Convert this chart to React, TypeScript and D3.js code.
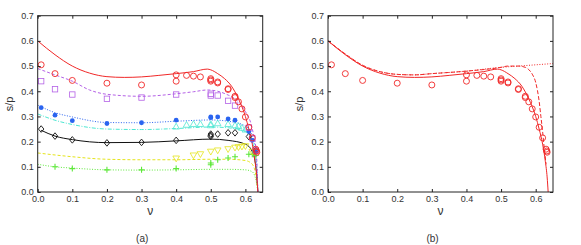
import React, { useRef, useEffect } from 'react';
import * as d3 from 'd3';

type P = [number, number];

// ---- panel (a) data ----
const redPts: P[] = [[0.01,0.505],[0.05,0.47],[0.1,0.443],[0.2,0.432],[0.3,0.425],[0.4,0.465],[0.4,0.44],[0.43,0.463],[0.45,0.46],[0.47,0.457],[0.5,0.45],[0.5,0.445],[0.5,0.44],[0.52,0.437],[0.52,0.433],[0.55,0.41],[0.55,0.407],[0.57,0.38],[0.57,0.375],[0.58,0.358],[0.59,0.33],[0.6,0.298],[0.61,0.257],[0.62,0.215],[0.63,0.17],[0.632,0.163],[0.633,0.158]];
const redLine: P[] = [[0,0.6],[0.05,0.545],[0.1,0.5],[0.15,0.472],[0.2,0.458],[0.25,0.455],[0.3,0.457],[0.35,0.463],[0.4,0.47],[0.45,0.478],[0.49,0.488],[0.5,0.485],[0.52,0.47],[0.54,0.45],[0.56,0.42],[0.58,0.37],[0.6,0.3],[0.61,0.25],[0.62,0.19],[0.628,0.12],[0.633,0.06],[0.636,0]];

const purplePts: P[] = [[0.01,0.44],[0.05,0.408],[0.1,0.387],[0.2,0.37],[0.3,0.375],[0.4,0.387],[0.5,0.39],[0.5,0.383],[0.52,0.383],[0.55,0.362],[0.57,0.343],[0.61,0.255],[0.62,0.213],[0.63,0.165]];
const purpleLine: P[] = [[0,0.49],[0.05,0.465],[0.1,0.44],[0.15,0.405],[0.2,0.388],[0.3,0.38],[0.4,0.39],[0.45,0.398],[0.49,0.405],[0.52,0.4],[0.55,0.385],[0.57,0.37],[0.6,0.32],[0.62,0.25],[0.632,0.15],[0.636,0]];

const bluePts: P[] = [[0.01,0.335],[0.05,0.305],[0.1,0.283],[0.2,0.272],[0.3,0.275],[0.4,0.285],[0.5,0.298],[0.5,0.295],[0.52,0.298],[0.55,0.29],[0.57,0.285],[0.61,0.24],[0.62,0.205],[0.63,0.16]];
const blueLine: P[] = [[0,0.345],[0.05,0.315],[0.1,0.298],[0.2,0.276],[0.3,0.275],[0.4,0.281],[0.5,0.286],[0.55,0.281],[0.6,0.262],[0.62,0.225],[0.632,0.12],[0.636,0]];

const cyanPts: P[] = [[0.4,0.26],[0.43,0.267],[0.45,0.27],[0.47,0.27],[0.5,0.27],[0.5,0.265],[0.52,0.273],[0.55,0.27],[0.57,0.265],[0.58,0.262],[0.59,0.255],[0.6,0.248]];
const cyanLine: P[] = [[0,0.31],[0.05,0.285],[0.1,0.268],[0.2,0.25],[0.3,0.248],[0.4,0.252],[0.5,0.258],[0.55,0.255],[0.6,0.24],[0.62,0.2],[0.632,0.1],[0.636,0]];

const blackPts: P[] = [[0.01,0.25],[0.05,0.222],[0.1,0.207],[0.2,0.195],[0.3,0.197],[0.4,0.205],[0.5,0.23],[0.5,0.225],[0.5,0.22],[0.52,0.23],[0.55,0.235],[0.57,0.235],[0.61,0.22],[0.63,0.165]];
const blackLine: P[] = [[0.01,0.245],[0.05,0.222],[0.1,0.208],[0.2,0.196],[0.3,0.197],[0.4,0.203],[0.5,0.21],[0.55,0.205],[0.6,0.19],[0.62,0.16],[0.632,0.08],[0.636,0]];

const yellowPts: P[] = [[0.4,0.133],[0.45,0.145],[0.47,0.15],[0.5,0.16],[0.52,0.165],[0.55,0.17],[0.57,0.176],[0.58,0.178],[0.59,0.18],[0.6,0.182],[0.62,0.16]];
const yellowLine: P[] = [[0,0.155],[0.05,0.147],[0.1,0.14],[0.2,0.13],[0.3,0.128],[0.4,0.128],[0.5,0.13],[0.55,0.13],[0.6,0.125],[0.62,0.11],[0.632,0.05],[0.636,0]];

const greenPts: P[] = [[0.05,0.1],[0.1,0.093],[0.2,0.088],[0.3,0.088],[0.4,0.093],[0.5,0.115],[0.5,0.108],[0.52,0.128],[0.55,0.135],[0.57,0.14],[0.61,0.15],[0.62,0.15],[0.63,0.145]];
const greenLine: P[] = [[0,0.11],[0.05,0.1],[0.1,0.095],[0.2,0.088],[0.3,0.087],[0.4,0.088],[0.5,0.09],[0.55,0.09],[0.6,0.088],[0.62,0.08],[0.633,0.03],[0.636,0]];

// ---- panel (b) data ----
const redDashed: P[] = [[0,0.6],[0.05,0.548],[0.1,0.503],[0.15,0.478],[0.2,0.467],[0.25,0.465],[0.3,0.47],[0.4,0.48],[0.5,0.495],[0.52,0.5],[0.55,0.5],[0.57,0.495],[0.58,0.486],[0.59,0.468],[0.6,0.435],[0.61,0.36],[0.615,0.3],[0.62,0.24],[0.625,0.17],[0.63,0.11]];
const redDotted: P[] = [[0,0.6],[0.05,0.548],[0.1,0.503],[0.15,0.478],[0.2,0.467],[0.25,0.465],[0.3,0.47],[0.4,0.48],[0.5,0.495],[0.55,0.5],[0.6,0.505],[0.65,0.51]];

const xTicks = [0, 0.1, 0.2, 0.3, 0.4, 0.5, 0.6];
const yTicks = [0, 0.1, 0.2, 0.3, 0.4, 0.5, 0.6, 0.7];

const FONT = '"Liberation Sans", Arial, sans-serif';

export default function App() {
    const svgRef = useRef<SVGSVGElement>(null);

    useEffect(() => {
        const svg = d3.select(svgRef.current);
        svg.selectAll('*').remove();

        const top = 15.7, bottom = 192, w = 225;

        const drawPanel = (left: number, label: string,
            series: { line: P[]; pts?: P[]; color: string; dash: string; marker?: string; width?: number }[]) => {
            const x = d3.scaleLinear().domain([0, 0.65]).range([left, left + w]);
            const y = d3.scaleLinear().domain([0, 0.7]).range([bottom, top]);
            const g = svg.append('g');

            const clipId = 'clip' + label.replace(/\W/g, '');
            g.append('clipPath').attr('id', clipId).append('rect')
                .attr('x', left).attr('y', top).attr('width', w).attr('height', bottom - top);

            const line = d3.line<P>().x(d => x(d[0])).y(d => y(d[1])).curve(d3.curveMonotoneX);
            const plot = g.append('g').attr('clip-path', `url(#${clipId})`);

            series.forEach(s => {
                plot.append('path').attr('d', line(s.line) as string)
                    .attr('fill', 'none').attr('stroke', s.color)
                    .attr('stroke-width', s.width ?? 1)
                    .attr('stroke-dasharray', s.dash);
            });

            series.forEach(s => {
                if (!s.pts) return;
                const mg = g.append('g');
                s.pts.forEach(p => {
                    const cx = x(p[0]), cy = y(p[1]);
                    const m = s.marker;
                    if (m === 'circle') {
                        mg.append('circle').attr('cx', cx).attr('cy', cy).attr('r', 3)
                            .attr('fill', 'none').attr('stroke', s.color).attr('stroke-width', 0.9);
                    } else if (m === 'square') {
                        mg.append('rect').attr('x', cx - 2.7).attr('y', cy - 2.7).attr('width', 5.4).attr('height', 5.4)
                            .attr('fill', 'none').attr('stroke', s.color).attr('stroke-width', 0.8);
                    } else if (m === 'dot') {
                        mg.append('circle').attr('cx', cx).attr('cy', cy).attr('r', 2.4).attr('fill', s.color);
                    } else if (m === 'tri' || m === 'tridown') {
                        const d = m === 'tri' ? 1 : -1;
                        const pts = [[cx, cy - 3.3 * d], [cx - 3.3, cy + 2.5 * d], [cx + 3.3, cy + 2.5 * d]];
                        mg.append('polygon').attr('points', pts.map(q => q.join(',')).join(' '))
                            .attr('fill', 'none').attr('stroke', s.color).attr('stroke-width', 0.8);
                    } else if (m === 'diamond') {
                        const pts = [[cx, cy - 3.3], [cx + 2.7, cy], [cx, cy + 3.3], [cx - 2.7, cy]];
                        mg.append('polygon').attr('points', pts.map(q => q.join(',')).join(' '))
                            .attr('fill', 'none').attr('stroke', s.color).attr('stroke-width', 0.9);
                    } else if (m === 'plus') {
                        mg.append('path').attr('d', `M${cx - 3},${cy}H${cx + 3}M${cx},${cy - 3}V${cy + 3}`)
                            .attr('stroke', s.color).attr('stroke-width', 1.1);
                    }
                });
            });

            // frame with inward ticks
            g.append('rect').attr('x', left).attr('y', top).attr('width', w).attr('height', bottom - top)
                .attr('fill', 'none').attr('stroke', '#222').attr('stroke-width', 1);

            const fmt = d3.format('.1f');
            const xb = g.append('g').attr('transform', `translate(0,${bottom})`)
                .call(d3.axisBottom(x).tickValues(xTicks).tickSize(-3).tickPadding(4).tickFormat(d => fmt(d as number)));
            const xt = g.append('g').attr('transform', `translate(0,${top})`)
                .call(d3.axisTop(x).tickValues(xTicks).tickSize(-3).tickFormat(() => ''));
            const yl = g.append('g').attr('transform', `translate(${left},0)`)
                .call(d3.axisLeft(y).tickValues(yTicks).tickSize(-3).tickPadding(4).tickFormat(d => fmt(d as number)));
            const yr = g.append('g').attr('transform', `translate(${left + w},0)`)
                .call(d3.axisRight(y).tickValues(yTicks).tickSize(-3).tickFormat(() => ''));
            [xb, xt, yl, yr].forEach(a => {
                a.select('.domain').remove();
                a.selectAll('line').attr('stroke', '#222');
                a.selectAll('text').attr('font-family', FONT).attr('font-size', 9).attr('fill', '#333');
            });

            g.append('text').attr('x', left + w / 2).attr('y', 215).attr('text-anchor', 'middle')
                .attr('font-family', FONT).attr('font-size', 12).attr('fill', '#333').text('ν');
            g.append('text').attr('transform', `translate(${left - 25},${(top + bottom) / 2}) rotate(-90)`)
                .attr('text-anchor', 'middle').attr('font-family', FONT).attr('font-size', 11).attr('fill', '#333')
                .text('s/p');
            g.append('text').attr('x', left + w / 2 - 8).attr('y', 242).attr('text-anchor', 'middle')
                .attr('font-family', FONT).attr('font-size', 10).attr('fill', '#333').text(label);
        };

        drawPanel(37.7, '(a)', [
            { line: greenLine, pts: greenPts, color: '#5ee83a', dash: '1,1.6', marker: 'plus' },
            { line: yellowLine, pts: yellowPts, color: '#e4e41c', dash: '3,2', marker: 'tridown' },
            { line: blackLine, pts: blackPts, color: '#111', dash: '', marker: 'diamond' },
            { line: cyanLine, pts: cyanPts, color: '#4ee6d2', dash: '4,1.5,1,1.5', marker: 'tri' },
            { line: blueLine, pts: bluePts, color: '#2a64f0', dash: '1,1.6', marker: 'dot' },
            { line: purpleLine, pts: purplePts, color: '#b461e6', dash: '3,2', marker: 'square' },
            { line: redLine, pts: redPts, color: '#f02828', dash: '', marker: 'circle' },
        ]);

        drawPanel(328, '(b)', [
            { line: redDotted, color: '#f02828', dash: '1,1.6' },
            { line: redDashed, color: '#f02828', dash: '4,2' },
            { line: redLine, pts: redPts, color: '#f02828', dash: '', marker: 'circle' },
        ]);
    }, []);

    return (
        <div style={{ position: 'absolute', left: 0, top: 0 }}>
            <svg ref={svgRef} width={581} height={245} style={{ display: 'block', background: '#fff' }} />
        </div>
    );
}
